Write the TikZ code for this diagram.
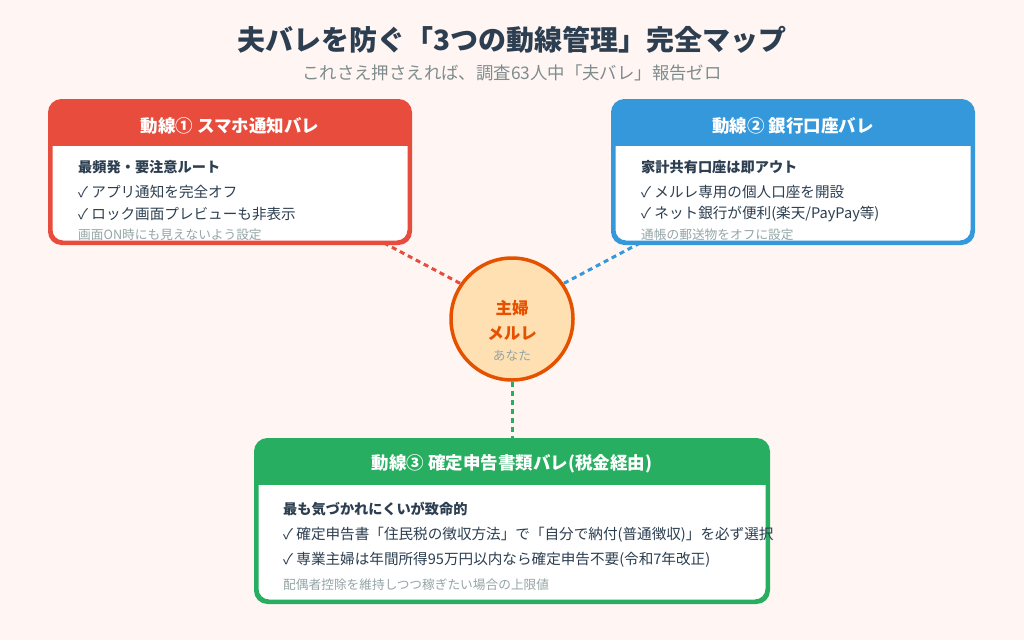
\documentclass[tikz,border=0pt]{standalone}
\usepackage{fontspec}
\setmainfont{Noto Sans CJK JP}
\definecolor{bgc}{HTML}{FFF6F3}
\definecolor{titlec}{HTML}{2C3E50}
\definecolor{subc}{HTML}{7F8C8D}
\definecolor{bodyc}{HTML}{2C3E50}
\definecolor{notec}{HTML}{95A5A6}
\definecolor{redc}{HTML}{E74C3C}
\definecolor{bluec}{HTML}{3498DB}
\definecolor{greenc}{HTML}{27AE60}
\definecolor{orangec}{HTML}{E65100}
\definecolor{peachc}{HTML}{FFE0B2}
\tikzset{
  ttl/.style={inner sep=0, text=titlec, font=\bfseries\fontsize{28}{32}\selectfont},
  subttl/.style={inner sep=0, text=subc, font=\fontsize{17.4}{20}\selectfont},
  cardbox/.style={draw=#1, line width=3pt, fill=white, rounded corners=12pt, inner sep=0, rectangle},
  cardhead/.style={inner sep=0, text=white, font=\bfseries\fontsize{17.5}{20}\selectfont},
  lead/.style={inner sep=0, anchor=west, text=bodyc, font=\bfseries\fontsize{14.2}{16}\selectfont},
  item/.style={inner sep=0, anchor=west, text=bodyc, font=\fontsize{14.6}{16}\selectfont},
  note/.style={inner sep=0, anchor=west, text=notec, font=\fontsize{12.7}{15}\selectfont},
  link/.style={draw=#1, line width=3pt, dash pattern=on 5pt off 4pt},
}
\newcommand{\cardheader}[3]{%
  \begin{scope}
    \clip[rounded corners=12pt] (#1.north west) rectangle (#1.south east);
    \fill[#2] (#1.north west) rectangle ([yshift=-#3]#1.north east);
  \end{scope}
  \draw[#2, line width=3pt, rounded corners=12pt] (#1.north west) rectangle (#1.south east);
}
\begin{document}
\begin{tikzpicture}[x=1pt, y=-1pt]
\fill[bgc] (0,0) rectangle (1024,640);
\useasboundingbox (0,0) rectangle (1024,640);

\node[ttl] (title) at (512,40) {夫バレを防ぐ「3つの動線管理」完全マップ};
\node[subttl] (subtitle) at (512,73) {これさえ押さえれば、調査63人中「夫バレ」報告ゼロ};

% connectors
\coordinate (r1) at (384,243);
\coordinate (r2) at (467,287);
\coordinate (b1) at (640,243);
\coordinate (b2) at (557,287);
\draw[link=redc] (r1) -- (r2);
\draw[link=bluec] (b1) -- (b2);

% card 1
\node[cardbox=redc, minimum width=358pt, minimum height=140pt] (c1) at (230,172) {};
\cardheader{c1}{redc}{45pt}
\node[cardhead] (c1t) at (230,126) {動線① スマホ通知バレ};
\node[lead] (c1a) at (78,167) {最頻発・要注意ルート};
\node[item] (c1b) at (78,192) {✓ アプリ通知を完全オフ};
\node[item] (c1c) at (78,214) {✓ ロック画面プレビューも非表示};
\node[note] (c1d) at (78,235) {画面ON時にも見えないよう設定};

% card 2
\node[cardbox=bluec, minimum width=358pt, minimum height=140pt] (c2) at (793,172) {};
\cardheader{c2}{bluec}{45pt}
\node[cardhead] (c2t) at (793,126) {動線② 銀行口座バレ};
\node[lead] (c2a) at (641,167) {家計共有口座は即アウト};
\node[item] (c2b) at (641,192) {✓ メルレ専用の個人口座を開設};
\node[item] (c2c) at (641,214) {✓ ネット銀行が便利(楽天/PayPay等)};
\node[note] (c2d) at (641,235) {通帳の郵送物をオフに設定};

% card 3
\node[cardbox=greenc, minimum width=510pt, minimum height=160pt] (c3) at (512,521) {};
\cardheader{c3}{greenc}{45pt}
\node[cardhead] (c3t) at (512,464) {動線③ 確定申告書類バレ(税金経由)};
\node[lead] (c3a) at (283,509) {最も気づかれにくいが致命的};
\node[item] (c3b) at (283,535) {✓ 確定申告書「住民税の徴収方法」で「自分で納付(普通徴収)」を必ず選択};
\node[item] (c3c) at (283,560) {✓ 専業主婦は年間所得95万円以内なら確定申告不要(令和7年改正)};
\node[note] (c3d) at (283,585) {配偶者控除を維持しつつ稼ぎたい場合の上限値};

% center
\node[circle, draw=orangec, line width=3.5pt, fill=peachc, minimum size=122pt, inner sep=0] (me) at (512,319) {};
\node[inner sep=0, text=orangec, font=\bfseries\fontsize{16.5}{20}\selectfont] (me1) at (512,308) {主婦};
\node[inner sep=0, text=orangec, font=\bfseries\fontsize{16.5}{20}\selectfont] (me2) at (512,333) {メルレ};
\node[inner sep=0, text=notec, font=\fontsize{12.7}{15}\selectfont] (me3) at (512,356) {あなた};

\draw[link=greenc] (me.south) -- (c3.north);
\end{tikzpicture}
\end{document}
